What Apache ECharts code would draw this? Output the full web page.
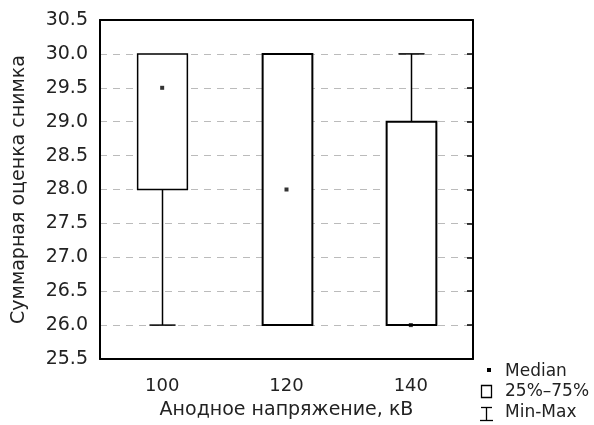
<!DOCTYPE html>
<html>
<head>
<meta charset="utf-8">
<style>
  html, body { margin: 0; padding: 0; background: #fff; }
  #chart { width: 594px; height: 425px; }
</style>
<script src="https://cdn.jsdelivr.net/npm/echarts@6/dist/echarts.min.js"></script>
</head>
<body>
<div id="chart"></div>
<script>
// данные
var categories = ['100', '120', '140'];
var minValues = [26.0, 26.0, 26.0];
var q1Values = [28.0, 26.0, 26.0];
var medianValues = [29.5, 28.0, 26.0];
var q3Values = [30.0, 30.0, 29.0];
var maxValues = [30.0, 30.0, 30.0];
var yTicks = [25.5, 26.0, 26.5, 27.0, 27.5, 28.0, 28.5, 29.0, 29.5, 30.0, 30.5];

(function () {
    var myChart = echarts.init(document.getElementById('chart'));
    var font = 'DejaVu Sans, Liberation Sans, sans-serif';

    var boxData = categories.map(function (c, i) {
        return [i, minValues[i], q1Values[i], q3Values[i], maxValues[i]];
    });
    var medData = categories.map(function (c, i) {
        return [i, medianValues[i]];
    });

    // рисуем ящик с усами
    function renderBox(params, api) {
        var idx = api.value(0);
        var pMin = api.coord([idx, api.value(1)]);
        var pQ1 = api.coord([idx, api.value(2)]);
        var pQ3 = api.coord([idx, api.value(3)]);
        var pMax = api.coord([idx, api.value(4)]);
        var band = api.size([1, 0])[0];
        var w = band * 0.4;
        var cap = band * 0.21;
        var x = Math.round(pQ1[0]) + 0.5;
        var children = [];
        var lw = params.dataIndex === 0 ? 1.5 : 2;
        if (pMin[1] > pQ1[1] + 0.5) {
            children.push({ type: 'line', shape: { x1: x, y1: pQ1[1], x2: x, y2: pMin[1] }, style: { stroke: '#000', lineWidth: 1.5 } });
            children.push({ type: 'line', shape: { x1: x - cap / 2, y1: pMin[1], x2: x + cap / 2, y2: pMin[1] }, style: { stroke: '#000', lineWidth: 1.5 } });
        }
        if (pMax[1] < pQ3[1] - 0.5) {
            children.push({ type: 'line', shape: { x1: x, y1: pQ3[1], x2: x, y2: pMax[1] }, style: { stroke: '#000', lineWidth: 1.5 } });
            children.push({ type: 'line', shape: { x1: x - cap / 2, y1: pMax[1], x2: x + cap / 2, y2: pMax[1] }, style: { stroke: '#000', lineWidth: 1.5 } });
        }
        children.push({
            type: 'rect',
            shape: { x: x - w / 2, y: pQ3[1], width: w, height: pQ1[1] - pQ3[1] },
            style: { fill: '#fff', stroke: '#000', lineWidth: lw }
        });
        return { type: 'group', children: children };
    }

    var legendFont = '17px DejaVu Sans, Liberation Sans, sans-serif';

    var option = {
        animation: false,
        backgroundColor: '#fff',
        grid: { left: 100, right: 121, top: 20, bottom: 62 },
        xAxis: [
            {
                type: 'category',
                data: categories,
                position: 'bottom',
                name: 'Анодное напряжение, кВ',
                nameLocation: 'middle',
                nameGap: 42,
                nameTextStyle: { fontFamily: font, fontSize: 19, color: '#222' },
                axisLine: { lineStyle: { color: '#000', width: 2 } },
                axisTick: { inside: true, length: 6, alignWithLabel: true, lineStyle: { color: '#000', width: 1.5 } },
                axisLabel: { fontFamily: font, fontSize: 18, color: '#222', margin: 18 },
                splitLine: { show: false }
            },
            {
                type: 'category',
                data: categories,
                position: 'top',
                axisLine: { lineStyle: { color: '#000', width: 2 } },
                axisTick: { inside: true, length: 6, alignWithLabel: true, lineStyle: { color: '#000', width: 1.5 } },
                axisLabel: { show: false },
                splitLine: { show: false }
            }
        ],
        yAxis: [
            {
                type: 'value',
                position: 'left',
                min: yTicks[0],
                max: yTicks[yTicks.length - 1],
                interval: 0.5,
                name: 'Суммарная оценка снимка',
                nameLocation: 'middle',
                nameGap: 71,
                nameTextStyle: { fontFamily: font, fontSize: 19, color: '#222' },
                axisLine: { show: true, lineStyle: { color: '#000', width: 2 } },
                axisTick: { show: false },
                axisLabel: {
                    fontFamily: font, fontSize: 19, color: '#222', margin: 12,
                    formatter: function (v) { return v.toFixed(1); }
                },
                splitLine: { show: true, lineStyle: { color: '#bbb', type: [7, 6], width: 1 } }
            },
            {
                type: 'value',
                position: 'right',
                min: yTicks[0],
                max: yTicks[yTicks.length - 1],
                interval: 0.5,
                axisLine: { show: true, lineStyle: { color: '#000', width: 2 } },
                axisTick: { show: true, inside: true, length: 6, lineStyle: { color: '#000', width: 1.5 } },
                axisLabel: { show: false },
                splitLine: { show: false }
            }
        ],
        series: [
            {
                name: '25%–75%',
                type: 'custom',
                renderItem: renderBox,
                encode: { x: 0, y: [1, 2, 3, 4] },
                data: boxData,
                z: 3
            },
            {
                name: 'Median',
                type: 'scatter',
                symbol: 'rect',
                symbolSize: 4,
                itemStyle: { color: '#000' },
                data: medData,
                z: 5
            }
        ],
        // легенда
        graphic: [
            { type: 'rect', shape: { x: 487, y: 368, width: 4, height: 4 }, style: { fill: '#000' } },
            { type: 'text', x: 505, y: 372, style: { text: 'Median', font: legendFont, fill: '#222', verticalAlign: 'middle' } },
            { type: 'rect', shape: { x: 481.5, y: 385.5, width: 10, height: 12 }, style: { fill: '#fff', stroke: '#000', lineWidth: 1.3 } },
            { type: 'text', x: 505, y: 392, style: { text: '25%–75%', font: legendFont, fill: '#222', verticalAlign: 'middle' } },
            { type: 'line', shape: { x1: 481, y1: 407.5, x2: 492, y2: 407.5 }, style: { stroke: '#000', lineWidth: 1.3 } },
            { type: 'line', shape: { x1: 486.5, y1: 407.5, x2: 486.5, y2: 420.5 }, style: { stroke: '#000', lineWidth: 1.3 } },
            { type: 'line', shape: { x1: 480, y1: 420.5, x2: 493, y2: 420.5 }, style: { stroke: '#000', lineWidth: 1.3 } },
            { type: 'text', x: 505, y: 413, style: { text: 'Min-Max', font: legendFont, fill: '#222', verticalAlign: 'middle' } }
        ]
    };

    myChart.setOption(option);
    window.addEventListener('resize', function () {
        myChart.resize();
    });
})();
</script>
</body>
</html>
